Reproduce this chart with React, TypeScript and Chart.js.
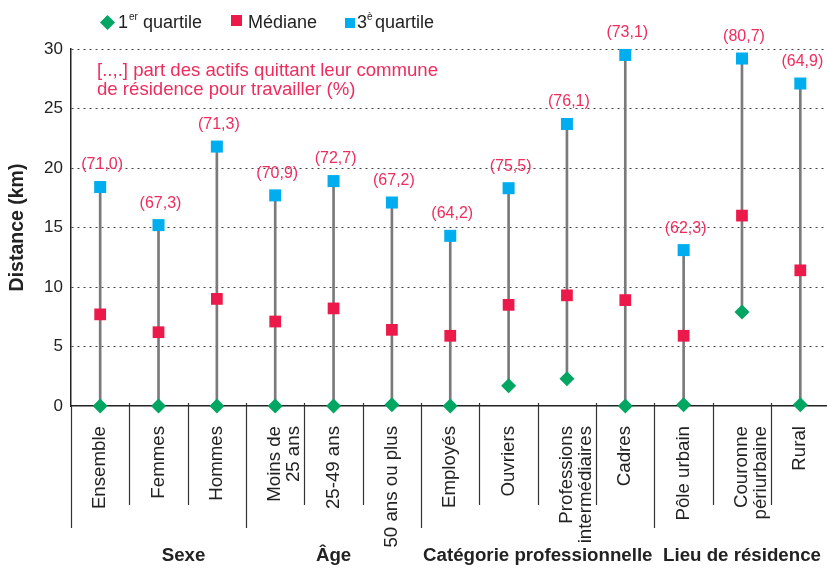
import React, { useEffect, useRef } from "react";
import { Chart, registerables } from "chart.js";
Chart.register(...registerables);

const categories: string[][] = [
  ["Ensemble"], ["Femmes"], ["Hommes"], ["Moins de", "25 ans"], ["25-49 ans"], ["50 ans ou plus"],
  ["Employés"], ["Ouvriers"], ["Professions", "intermédiaires"], ["Cadres"],
  ["Pôle urbain"], ["Couronne", "périurbaine"], ["Rural"],
];
const q1Values = [0, 0, 0, 0, 0, 0.1, 0, 1.7, 2.3, 0, 0.1, 7.9, 0.1];
const medianValues = [7.7, 6.2, 9.0, 7.1, 8.2, 6.4, 5.9, 8.5, 9.3, 8.9, 5.9, 16.0, 11.4];
const q3Values = [18.4, 15.2, 21.8, 17.7, 18.9, 17.1, 14.3, 18.3, 23.7, 29.5, 13.1, 29.2, 27.1];
const shareLabels = ["(71,0)", "(67,3)", "(71,3)", "(70,9)", "(72,7)", "(67,2)", "(64,2)", "(75,5)", "(76,1)", "(73,1)", "(62,3)", "(80,7)", "(64,9)"];
const groupNames = ["Sexe", "Âge", "Catégorie professionnelle", "Lieu de résidence"];
const groupStarts = [0, 3, 6, 10];
const groupEnds = [2, 5, 9, 12];
const yTicks = [0, 5, 10, 15, 20, 25, 30];
const noteLines = ["[..,.] part des actifs quittant leur commune", "de résidence pour travailler (%)"];

const FONT = "'Liberation Sans', Arial, Helvetica, sans-serif";
const GREEN = "#00a661";
const RED = "#ec1a4b";
const BLUE = "#00aeef";
const PINK = "#ee2d5e";
const TEXT = "#222";

const overlay = {
  id: "overlay",
  afterDraw(chart: any) {
    const ctx = chart.ctx as CanvasRenderingContext2D;
    const x = chart.scales.x;
    const y = chart.scales.y;
    const area = chart.chartArea;
    const step = x.getPixelForValue(1) - x.getPixelForValue(0);
    ctx.save();
    // separators below axis
    const axisY = y.getPixelForValue(0);
    for (let b = 0; b < categories.length; b++) {
      const bx = x.getPixelForValue(b) - step / 2;
      const isGroup = groupStarts.includes(b);
      ctx.beginPath();
      ctx.strokeStyle = "#333";
      ctx.lineWidth = 1.2;
      ctx.moveTo(Math.round(bx) + 0.5, b === 0 ? axisY : axisY - 3);
      ctx.lineTo(Math.round(bx) + 0.5, isGroup ? axisY + 122 : axisY + 99);
      ctx.stroke();
    }
    // group labels
    const labelShift = [25, 0, 0, 0];
    ctx.fillStyle = TEXT;
    ctx.font = `bold 18.7px ${FONT}`;
    ctx.textAlign = "center";
    ctx.textBaseline = "middle";
    groupNames.forEach((g, i) => {
      const cx = (x.getPixelForValue(groupStarts[i]) + x.getPixelForValue(groupEnds[i])) / 2 + labelShift[i];
      ctx.fillText(g, cx, axisY + 150);
    });
    // share labels above Q3
    ctx.fillStyle = PINK;
    ctx.font = `16px ${FONT}`;
    shareLabels.forEach((s, i) => {
      ctx.fillText(s, x.getPixelForValue(i) + 2, y.getPixelForValue(q3Values[i]) - 22);
    });
    // note
    ctx.textAlign = "left";
    ctx.font = `18.6px ${FONT}`;
    noteLines.forEach((l, i) => ctx.fillText(l, area.left + 26, area.top + 22 + i * 18.5));
    // legend
    ctx.font = `18px ${FONT}`;
    ctx.fillStyle = GREEN;
    ctx.beginPath();
    ctx.moveTo(107.5, 15); ctx.lineTo(115, 22.5); ctx.lineTo(107.5, 30); ctx.lineTo(100, 22.5); ctx.closePath();
    ctx.fill();
    ctx.fillStyle = TEXT;
    ctx.fillText("1", 118, 23);
    ctx.font = `10px ${FONT}`;
    ctx.fillText("er", 129, 17);
    ctx.font = `18px ${FONT}`;
    ctx.fillText("quartile", 143, 23);
    ctx.fillStyle = RED;
    ctx.fillRect(231, 15, 11, 11);
    ctx.fillStyle = TEXT;
    ctx.fillText("Médiane", 248, 23);
    ctx.fillStyle = BLUE;
    ctx.fillRect(345, 18, 10, 10);
    ctx.fillStyle = TEXT;
    ctx.fillText("3", 357, 23);
    ctx.font = `10px ${FONT}`;
    ctx.fillText("è", 367, 17);
    ctx.font = `18px ${FONT}`;
    ctx.fillText("quartile", 375, 23);
    ctx.restore();
  },
};

export default function App() {
  const ref = useRef<HTMLCanvasElement>(null);
  useEffect(() => {
    if (!ref.current) return;
    const chart = new Chart(ref.current, {
      type: "bar",
      data: {
        labels: categories as any,
        datasets: [
          {
            type: "bar",
            data: q1Values.map((v, i) => [v, q3Values[i]]) as any,
            backgroundColor: "#7a7a7a",
            barThickness: 2,
            order: 10,
          } as any,
          {
            type: "line",
            data: q1Values,
            showLine: false,
            pointStyle: "rectRot",
            pointRadius: 7.5,
            pointBackgroundColor: GREEN,
            pointBorderWidth: 0,
            clip: false,
            order: 1,
          } as any,
          {
            type: "line",
            data: medianValues,
            showLine: false,
            pointStyle: "rect",
            pointRadius: 8.3,
            pointBackgroundColor: RED,
            pointBorderWidth: 0,
            clip: false,
            order: 1,
          } as any,
          {
            type: "line",
            data: q3Values,
            showLine: false,
            pointStyle: "rect",
            pointRadius: 8.5,
            pointBackgroundColor: BLUE,
            pointBorderWidth: 0,
            clip: false,
            order: 1,
          } as any,
        ],
      },
      options: {
        responsive: false,
        animation: false,
        devicePixelRatio: 1,
        layout: { padding: { top: 49, left: 0, right: 0, bottom: 0 } },
        plugins: { legend: { display: false }, tooltip: { enabled: false } },
        scales: {
          x: {
            type: "category",
            offset: true,
            grid: { display: false, drawTicks: false },
            border: { display: true, color: "#222", width: 1.5 },
            ticks: {
              autoSkip: false,
              maxRotation: 90,
              minRotation: 90,
              padding: 20,
              color: TEXT,
              font: { family: FONT, size: 18.7, lineHeight: 1.0 },
            },
            afterFit: (s: any) => { s.height = 162; s.paddingLeft = 0; s.paddingRight = 0; },
          },
          y: {
            min: 0,
            max: 30,
            afterBuildTicks: (s: any) => { s.ticks = yTicks.map((v) => ({ value: v })); },
            grid: {
              drawTicks: false,
              color: (c: any) => (c.tick && c.tick.value === 0 ? "rgba(0,0,0,0)" : "#444"),
            },
            border: { display: true, color: "#222", width: 1.5, dash: [2, 4] },
            ticks: { padding: 8, color: TEXT, font: { family: FONT, size: 17 } },
            title: {
              display: true,
              text: "Distance (km)",
              color: TEXT,
              font: { family: FONT, size: 19.5, weight: "bold" },
              padding: { top: 6, bottom: 0 },
            },
            afterFit: (s: any) => { s.width = 71; },
          },
        },
      },
      plugins: [overlay],
    });
    return () => chart.destroy();
  }, []);
  return (
    <div style={{ position: "fixed", left: 0, top: 0, width: 827, height: 568, overflow: "hidden", background: "#fff" }}>
      <canvas ref={ref} width={838} height={568} style={{ display: "block", width: 838, height: 568 }} />
    </div>
  );
}
